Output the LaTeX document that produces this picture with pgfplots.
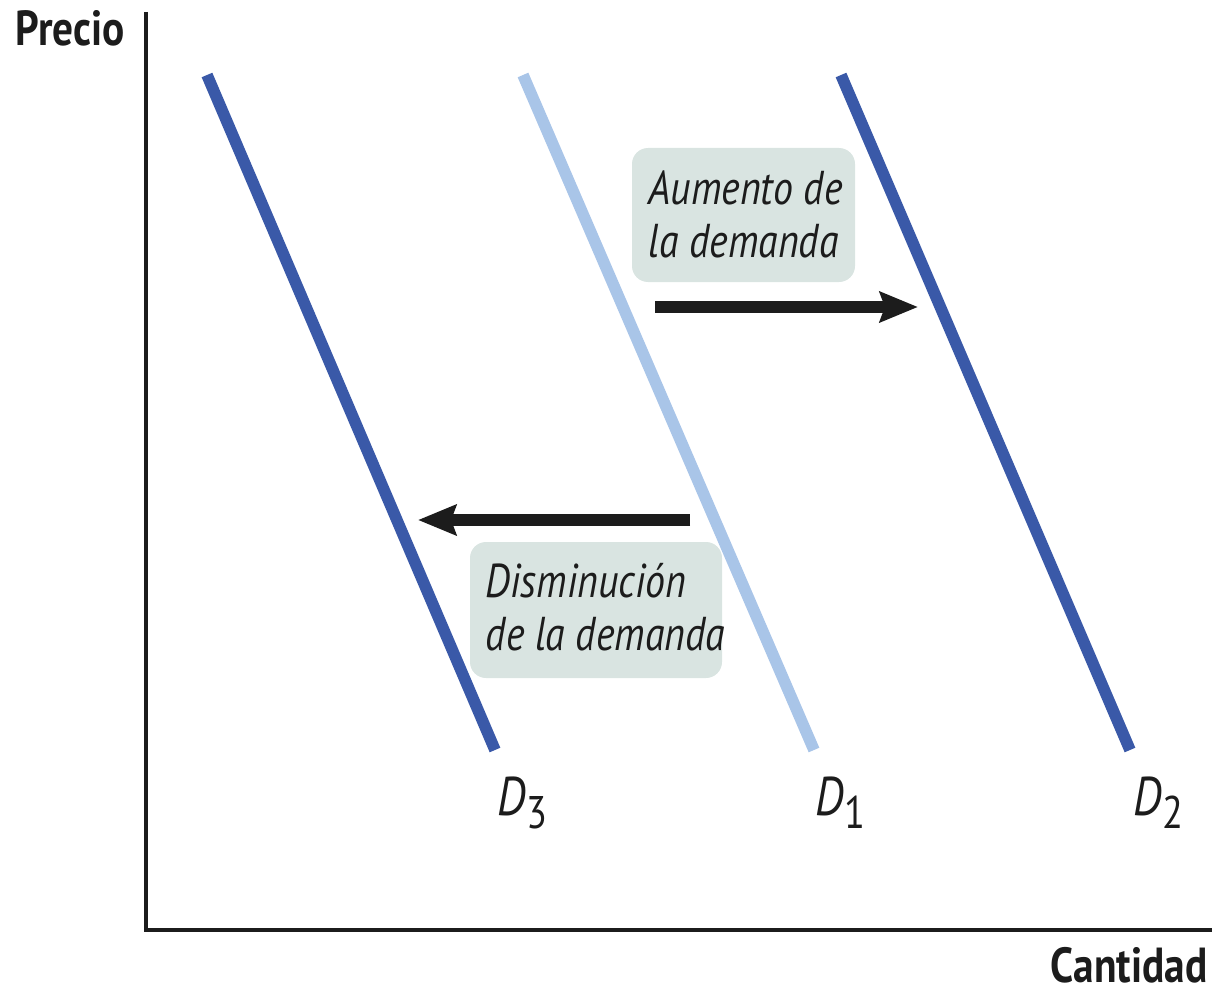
\documentclass[border=0pt]{standalone}
\usepackage{fontspec}
\setmainfont{PT Sans}[FakeStretch=0.84]
\usepackage{pgfplots}
\pgfplotsset{compat=1.18}
\usetikzlibrary{arrows.meta}
\definecolor{dblue}{HTML}{3A59A8}
\definecolor{lblue}{HTML}{A9C5E8}
\definecolor{boxfill}{HTML}{D9E4E1}
\definecolor{ink}{HTML}{1C1C1C}
\newcommand{\Dlab}[1]{\textit{D}\raisebox{-0.5ex}{\fontsize{13pt}{13pt}\selectfont #1}}

\begin{document}
\begin{tikzpicture}
\begin{axis}[x=0.01cm, y=0.01cm, xmin=0, xmax=1216, ymin=0, ymax=991, y dir=reverse, hide axis, clip=false]
\path (axis cs:0,0) rectangle (axis cs:1216,991);
% axes
\addplot[ink, line width=0.9pt] coordinates {(146,12) (146,930) (1212,930)};
% demand curves
\addplot[lblue, line width=3.3pt] coordinates {(523,75) (814,750)};
\addplot[dblue, line width=3.3pt] coordinates {(207,75) (495,750)};
\addplot[dblue, line width=3.3pt] coordinates {(841,75) (1130,750)};
% boxes
\fill[boxfill, rounded corners=0.16cm] (axis cs:632,148) rectangle (axis cs:855,282);
\fill[boxfill, rounded corners=0.16cm] (axis cs:470,542) rectangle (axis cs:722,678);
% arrows
\draw[ink, line width=3.4pt, -{Stealth[length=0.38cm, width=0.3cm, inset=0.05cm]}] (axis cs:655,307) -- (axis cs:918,307);
\draw[ink, line width=3.4pt, -{Stealth[length=0.38cm, width=0.3cm, inset=0.05cm]}] (axis cs:690,520) -- (axis cs:418,520);
% texts
\node[anchor=base west, align=left, font=\fontsize{13.5pt}{14.8pt}\selectfont\itshape, text=ink, inner sep=0pt] at (axis cs:648,257) {Aumento de\\la demanda};
\node[anchor=base west, align=left, font=\fontsize{13.5pt}{14.8pt}\selectfont\itshape, text=ink, inner sep=0pt] at (axis cs:485,650) {Disminución\\de la demanda};
\node[anchor=base west, font=\fontsize{15.5pt}{16pt}\selectfont, text=ink, inner sep=0pt] at (axis cs:497,815) {\Dlab{3}};
\node[anchor=base west, font=\fontsize{15.5pt}{16pt}\selectfont, text=ink, inner sep=0pt] at (axis cs:815,815) {\Dlab{1}};
\node[anchor=base west, font=\fontsize{15.5pt}{16pt}\selectfont, text=ink, inner sep=0pt] at (axis cs:1133,815) {\Dlab{2}};
\node[anchor=base west, font=\fontsize{14pt}{14pt}\selectfont\bfseries, text=ink, inner sep=0pt] at (axis cs:15,46) {Precio};
\node[anchor=base east, font=\fontsize{14pt}{14pt}\selectfont\bfseries, text=ink, inner sep=0pt] at (axis cs:1208,982) {Cantidad};
\end{axis}
\end{tikzpicture}
\end{document}
